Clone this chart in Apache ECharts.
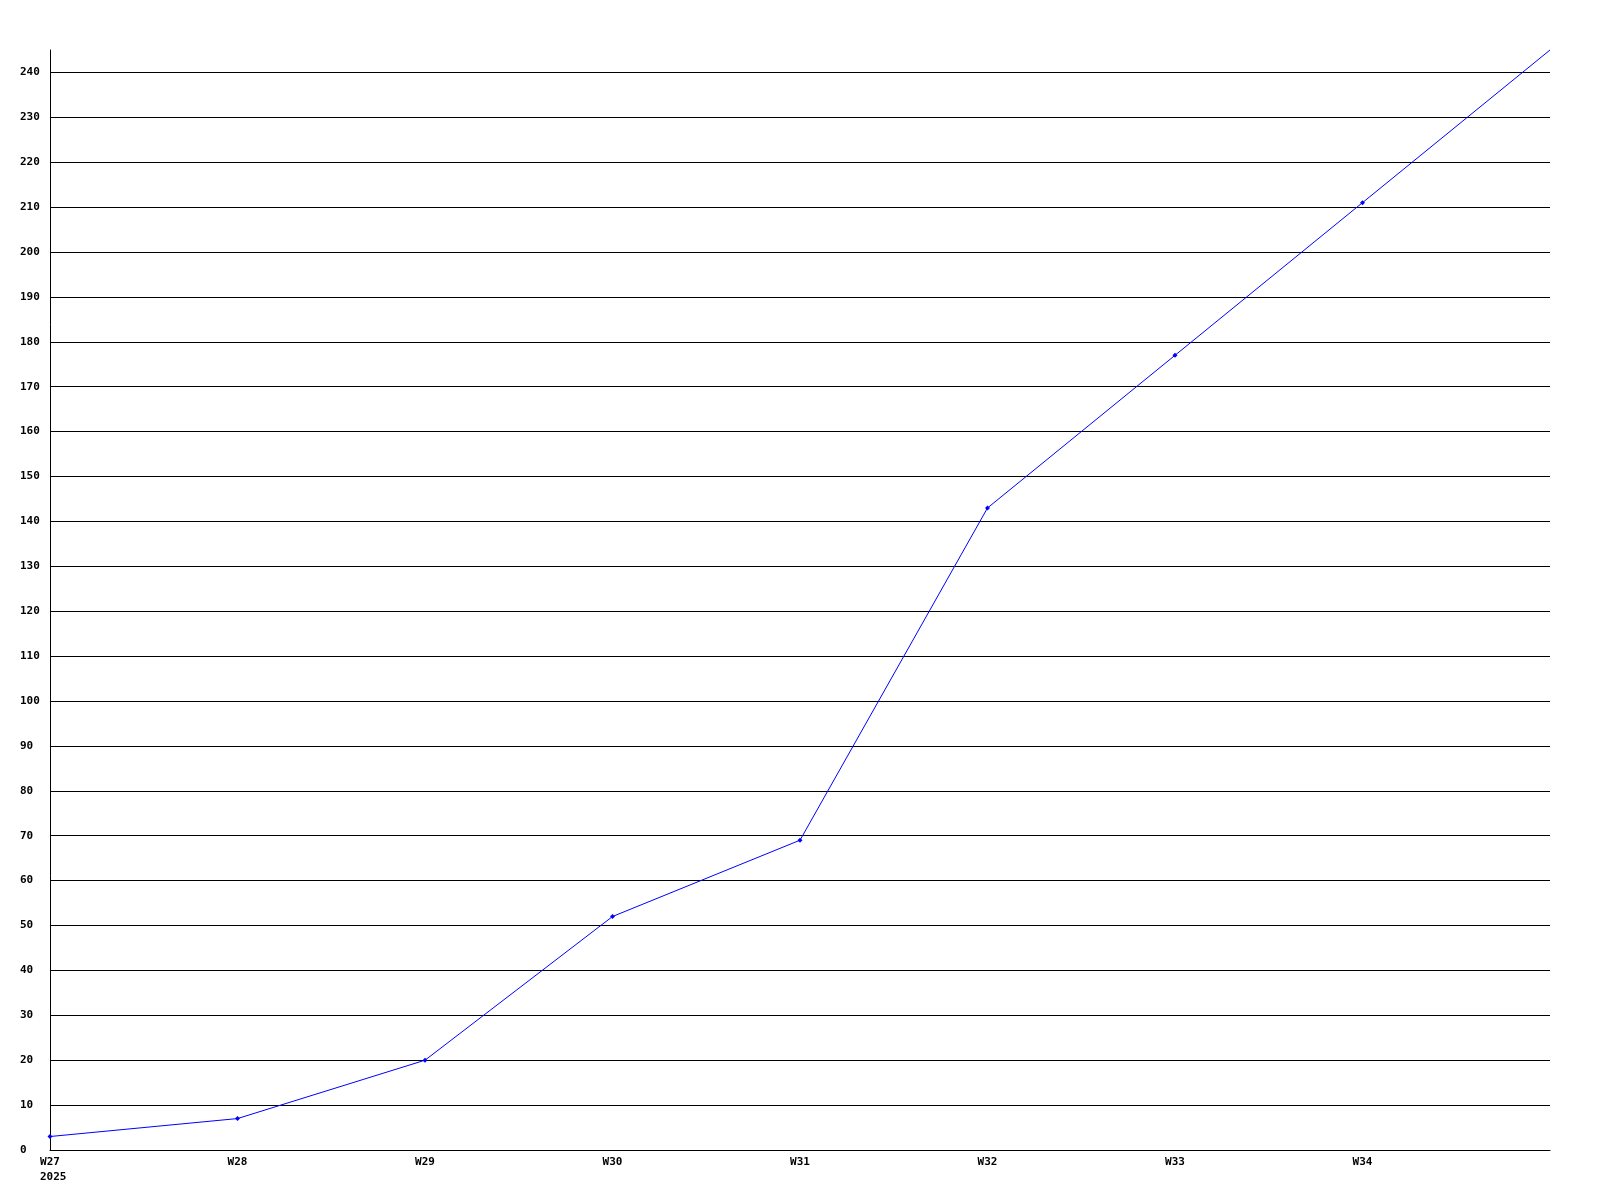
<!DOCTYPE html>
<html>
<head>
<meta charset="utf-8">
<script src="https://cdn.jsdelivr.net/npm/echarts@6/dist/echarts.min.js"></script>
<style>html,body{margin:0;padding:0;background:#fff}#c{width:1600px;height:1200px}</style>
</head>
<body>
<div id="c"></div>
<script>
const weeks = ['W27','W28','W29','W30','W31','W32','W33','W34','W35'];
const values = [3, 7, 20, 52, 69, 143, 177, 211, 245];
const yearLabel = '2025';

const FONT = 'bold 11px "DejaVu Sans Mono", "Liberation Mono", monospace';
const chart = echarts.init(document.getElementById('c'), null, {renderer: 'canvas'});
chart.setOption({
  animation: false,
  backgroundColor: '#ffffff',
  grid: {left: 50, right: 50, top: 50, bottom: 50, containLabel: false},
  xAxis: {
    type: 'category',
    data: weeks,
    boundaryGap: false,
    axisLine: {lineStyle: {color: '#000', width: 1}},
    axisTick: {show: false},
    splitLine: {show: false},
    axisLabel: {
      interval: 0,
      margin: 7,
      color: '#000',
      fontFamily: '"DejaVu Sans Mono", monospace',
      fontWeight: 'bold',
      fontSize: 11,
      formatter: (v, i) => i === weeks.length - 1 ? '' : v
    }
  },
  yAxis: {
    type: 'value',
    min: 0,
    max: 245,
    interval: 10,
    axisLine: {show: true, lineStyle: {color: '#000', width: 1}},
    axisTick: {show: false},
    splitLine: {show: true, showMaxLine: false, lineStyle: {color: '#000', width: 1}},
    axisLabel: {
      showMaxLabel: false,
      align: 'left',
      margin: 30,
      padding: [2, 0, 0, 0],
      color: '#000',
      fontFamily: '"DejaVu Sans Mono", monospace',
      fontWeight: 'bold',
      fontSize: 11
    }
  },
  graphic: [{
    type: 'text',
    left: 40,
    top: 1172,
    style: {text: yearLabel, font: FONT, fill: '#000'}
  }],
  series: [{
    type: 'line',
    data: values.map((v, i) => i === values.length - 1 ? {value: v, symbol: 'none'} : v),
    symbol: 'diamond',
    symbolSize: 5,
    showSymbol: true,
    lineStyle: {color: '#0000ff', width: 1},
    itemStyle: {color: '#0000ff'},
    clip: false
  }]
});
</script>
</body>
</html>
